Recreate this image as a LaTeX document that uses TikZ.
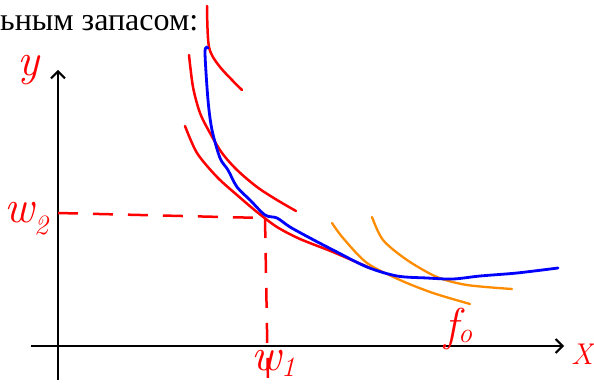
\documentclass[tikz,border=0pt]{standalone}
\usepackage{fontspec}
\newfontfamily\cyr{Liberation Serif}
\usetikzlibrary{arrows.meta}
\definecolor{pen}{RGB}{255,0,0}
\definecolor{bpen}{RGB}{0,0,255}
\definecolor{open}{RGB}{255,140,0}
\tikzset{
  axis/.style={black, line width=2.2pt, -{Straight Barb[length=7pt,width=14pt,line width=2pt]}},
  redc/.style={pen, line width=2.5pt, line cap=round},
  bluec/.style={bpen, line width=2.8pt, line cap=round},
  orac/.style={open, line width=2.3pt, line cap=round},
  guide/.style={pen, line width=2.5pt, dash pattern=on 20pt off 15pt},
  lab/.style={pen, inner sep=0pt, font=\itshape\fontsize{46}{46}\selectfont},
}
\newcommand{\subfs}{\fontsize{28}{28}\selectfont}
\begin{document}
\begin{tikzpicture}[x=1pt,y=-1pt]
\useasboundingbox (0,0) rectangle (594,385);
% header text
\node[anchor=base west, inner sep=0pt, font=\cyr\fontsize{32}{32}\selectfont] (hdr) at (0,31) {ьным запасом:};
% axes
\draw[axis] (58,380) -- (58,70);
\draw[axis] (31,346) -- (564,346);
% dashed guides
\draw[guide] (58,213) -- (264,218);
\draw[guide] (265,218) -- (268,385);
% red curves
\draw[redc] plot[smooth] coordinates {(207,6) (209,47) (220,67) (242,90)};
\draw[redc] plot[smooth] coordinates {(189,55) (193,87) (200,113) (210,133) (222,153) (237,170) (257,187) (277,200) (296,211)};
\draw[redc] plot[smooth] coordinates {(185,126) (197,153) (217,177) (237,195) (257,212) (277,227) (300,239) (333,252) (370,268)};
% orange curves
\draw[orac] plot[smooth] coordinates {(332,223) (343,238) (367,263) (400,280) (433,293) (470,304)};
\draw[orac] plot[smooth] coordinates {(372,217) (383,240) (407,260) (437,277) (467,285) (512,289)};
% blue curve
\draw[bluec] plot[smooth] coordinates {(208,48) (205,52) (208,100) (212,130) (220,158) (228,170) (237,187) (250,200) (265,215) (277,218) (290,227) (310,238) (333,250) (367,267) (397,276) (427,278) (453,279) (480,276) (517,273) (558,268)};
% labels
\node[lab, anchor=center] (ylab) at (28,70) {y};
\node[lab, font=\itshape\fontsize{30}{30}\selectfont] (xlab) at (582,354) {X};
\node[lab, anchor=base west] (w2) at (4,222) {w\raisebox{-12pt}{\subfs 2}};
\node[lab, anchor=base west] (w1) at (251,370) {w\raisebox{-6pt}{\subfs 1}};
\node[lab, anchor=base west] (f0) at (444,340) {f\raisebox{-2pt}{\subfs o}};
\end{tikzpicture}
\end{document}
